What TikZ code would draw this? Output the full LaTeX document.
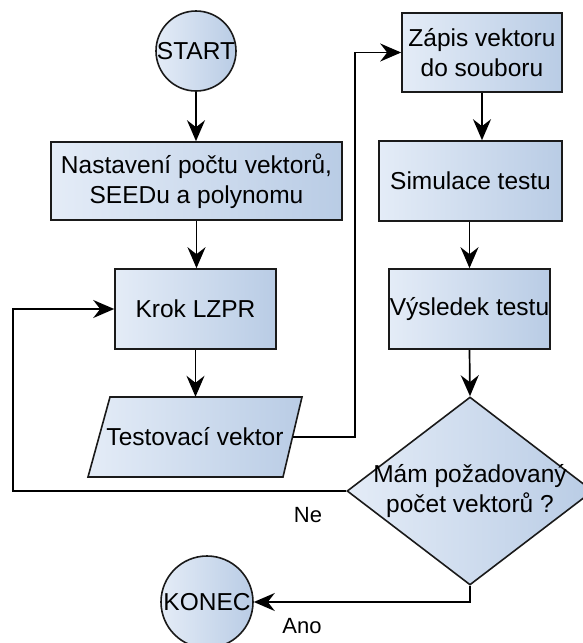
\documentclass[tikz,border=0pt]{standalone}
\usepackage{fontspec}
\setmainfont{Liberation Sans}
\usetikzlibrary{shapes.geometric,arrows.meta,calc}
\definecolor{fillL}{HTML}{E4ECF7}
\definecolor{fillR}{HTML}{B9CCE5}
\definecolor{edge}{HTML}{1A1A1A}

\begin{document}
\begin{tikzpicture}[x=1pt,y=-1pt,
  txt/.style={inner sep=0pt, align=center, font=\fontsize{24.5}{30}\selectfont},
  block/.style={txt, draw=edge, line width=1.6pt, left color=fillL, right color=fillR},
  procbox/.style={block, rectangle},
  term/.style={block, circle},
  arr/.style={draw=black, line width=1.7pt, -{Stealth[length=21pt,width=18pt,inset=7pt]}},
  lbl/.style={font=\fontsize{22}{26}\selectfont}]
\useasboundingbox (0,0) rectangle (583,643);
\clip (0,0) rectangle (583,643);

% left column
\node[term, minimum size=80pt] (start) at (196,51) {START};
\node[procbox, minimum width=291pt, minimum height=78pt] (nast) at (196.5,181)
  {Nastavení počtu vektorů,\\SEEDu a polynomu};
\node[procbox, minimum width=161pt, minimum height=80pt] (krok) at (195.5,309) {Krok LZPR};

% input/output parallelogram, leaning to the right
\filldraw[draw=edge, line width=1.6pt, left color=fillL, right color=fillR, line join=miter]
  (110,397) -- (302,397) -- (283,477) -- (88,477) -- cycle;
\node[txt, minimum width=214pt, minimum height=80pt] (tv) at (195,437) {Testovací vektor};
\coordinate (tvout) at (292.5,437);

% right column
\node[procbox, minimum width=160pt, minimum height=79pt] (zap) at (482,52.5)
  {Zápis vektoru\\do souboru};
\node[procbox, minimum width=183pt, minimum height=80pt] (sim) at (470.5,181) {Simulace testu};
\node[procbox, minimum width=161pt, minimum height=80pt] (vys) at (469.5,309) {Výsledek testu};
\node[block, diamond, minimum width=246pt, minimum height=188pt,
      label={[txt]center:Mám požadovaný\\počet vektorů ?}]
  (dia) at (470,491) {};

\node[term, minimum size=92pt] (konec) at (207,602) {KONEC};

% bend points of the routed connectors
\coordinate (loopx) at (13,0);
\coordinate (upx) at (355,0);

% connectors
\draw[arr] (start.south) -- (start.south |- nast.north);
\draw[arr] (nast.south) -- (nast.south |- krok.north);
\draw[arr] (krok.south) -- (krok.south |- tv.north);
\draw[arr] (tvout) -- (upx |- tvout) -- (upx |- zap.west) -- (zap.west);
\draw[arr] (zap.south) -- (zap.south |- sim.north);
\draw[arr] (vys.south |- sim.south) -- (vys.north);
\draw[arr] (vys.south) -- (dia.north);
\draw[arr] (dia.west) -- (loopx |- dia.west) -- (loopx |- krok.west) -- (krok.west);
\draw[arr] (dia.south) -- (dia.south |- konec.east) -- (konec.east);

% branch labels
\node[lbl] (ne) at (308,515) {Ne};
\node[lbl] (ano) at (302,626) {Ano};
\end{tikzpicture}
\end{document}
